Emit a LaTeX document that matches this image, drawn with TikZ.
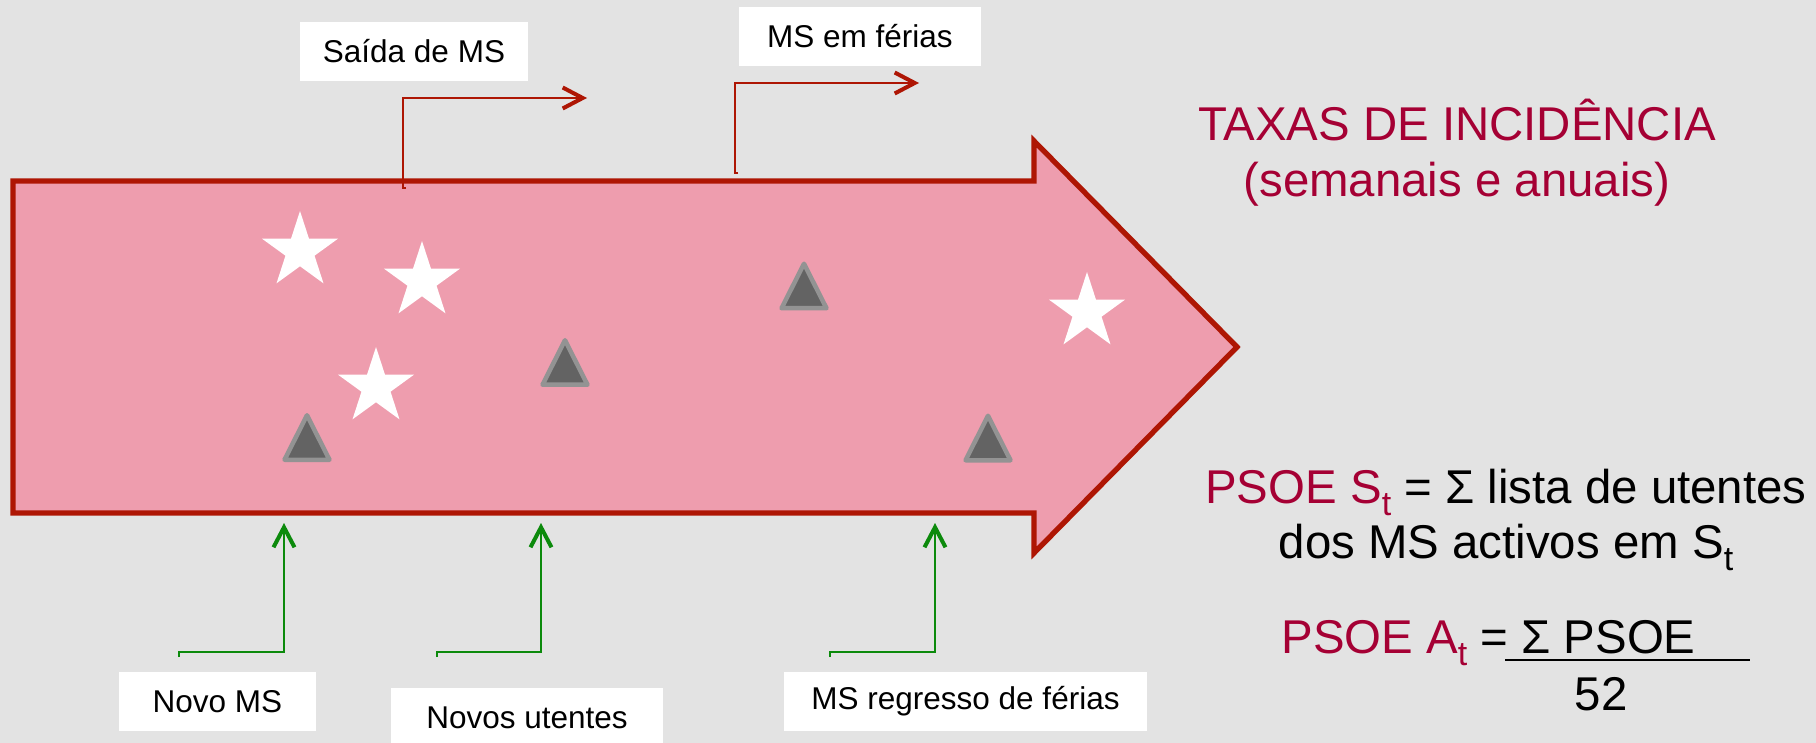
\documentclass[tikz,border=0pt]{standalone}
\usepackage{fontspec}
\setmainfont{Liberation Sans}
\usetikzlibrary{arrows.meta,shapes.geometric}
\definecolor{bggray}{RGB}{227,227,227}
\definecolor{arrowfill}{RGB}{238,157,174}
\definecolor{arrowline}{RGB}{174,22,4}
\definecolor{crim}{RGB}{165,0,52}
\definecolor{flowgreen}{RGB}{12,138,12}
\definecolor{markfill}{RGB}{99,99,99}
\definecolor{markline}{RGB}{147,147,147}
\newcommand{\lowidx}[1]{\raisebox{-6pt}{\fontsize{17}{17}\selectfont #1}}

\begin{document}
\begin{tikzpicture}[x=0.5pt,y=-0.5pt,
  bigarrow/.style={draw=arrowline,fill=arrowfill,line width=2.65pt},
  labelbox/.style={fill=white,inner sep=0pt,minimum height=29.5pt,font=\fontsize{15.75}{19}\selectfont},
  bigtxt/.style={inner sep=0pt,font=\fontsize{23.7}{28}\selectfont},
  outflow/.style={draw=arrowline,line width=0.9pt,-{Straight Barb[length=10pt,width=10.5pt,line width=2pt]}},
  inflow/.style={draw=flowgreen,line width=1pt,-{Straight Barb[length=10pt,width=10.5pt,line width=2pt]}},
  starmark/.style={star,star points=5,star point ratio=2.618,fill=white,inner sep=0pt,minimum size=40pt},
  trimark/.pic={\draw[fill=markfill,draw=markline,line width=2.25pt,line join=round]
    (0,-22.25) -- (22.5,22.25) -- (-22.5,22.25) -- cycle;}]
  \useasboundingbox (0,0) rectangle (1816,743);
  \fill[bggray] (0,0) rectangle (1816,743);
  \draw[bigarrow] (13,181) -- (1034,181) -- (1034,141) -- (1237,347) --
        (1034,553) -- (1034,513) -- (13,513) -- cycle;
  \node[starmark] (s1) at (300,251) {};
  \node[starmark] (s2) at (422,281) {};
  \node[starmark] (s3) at (376,387) {};
  \node[starmark] (s4) at (1087,312) {};
  \pic (t1) at (307,437.5) {trimark};
  \pic (t2) at (565,362.5) {trimark};
  \pic (t3) at (804,286) {trimark};
  \pic (t4) at (988,438) {trimark};
  \node[labelbox,minimum width=114pt] (saida) at (414,51.5) {Saída de MS};
  \node[labelbox,minimum width=121pt] (ferias) at (860,36.5) {MS em férias};
  \node[labelbox,minimum width=98.5pt] (novoms) at (217.5,701.5) {Novo MS};
  \node[labelbox,minimum width=136pt,minimum height=30pt] (novosut) at (527,718) {Novos utentes};
  \node[labelbox,minimum width=181.5pt] (regresso) at (965.5,701.5) {MS regresso de férias};
  \coordinate (saida-a) at (406,188);
  \coordinate (saida-b) at (587,98);
  \coordinate (ferias-a) at (738,173);
  \coordinate (ferias-b) at (919,83);
  \coordinate (novoms-a) at (179,657);
  \coordinate (novoms-b) at (284,523);
  \coordinate (novosut-a) at (437,657);
  \coordinate (novosut-b) at (541,523);
  \coordinate (regresso-a) at (830,657);
  \coordinate (regresso-b) at (935,523);
  \draw[outflow] (saida-a) -- ++(-3,0) |- (saida-b);
  \draw[outflow] (ferias-a) -- ++(-3,0) |- (ferias-b);
  \draw[inflow] (novoms-a) -- ++(0,-5) -| (novoms-b);
  \draw[inflow] (novosut-a) -- ++(0,-5) -| (novosut-b);
  \draw[inflow] (regresso-a) -- ++(0,-5) -| (regresso-b);
  \node[bigtxt,text=crim,anchor=base] (taxas) at (1457,141) {TAXAS DE INCIDÊNCIA};
  \node[bigtxt,text=crim,anchor=base] (periodo) at (1457,197) {(semanais e anuais)};
  \node[bigtxt,anchor=base] (psoes) at (1506,503) {\textcolor{crim}{PSOE S\lowidx{t}} = Σ lista de utentes};
  \node[bigtxt,anchor=base] (activos) at (1506,558) {dos MS activos em S\lowidx{t}};
  \node[bigtxt,anchor=base west] (psoea) at (1281,653) {\textcolor{crim}{PSOE A\lowidx{t}} = Σ PSOE};
  \coordinate (bar-a) at (1505,660);
  \coordinate (bar-b) at (1750,660);
  \draw[line width=1.35pt] (bar-a) -- (bar-b);
  \node[bigtxt,anchor=base] (semanas) at (1601,710) {52};
\end{tikzpicture}
\end{document}
